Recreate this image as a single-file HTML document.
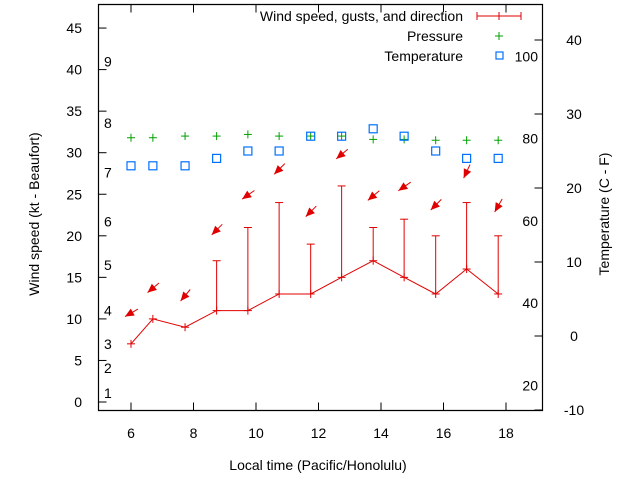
<!DOCTYPE html>
<html><head><meta charset="utf-8"><style>
body{margin:0;background:#fff;width:640px;height:480px;overflow:hidden}
svg text{font-family:"Liberation Sans",sans-serif;font-size:14px;fill:#000}
</style></head><body>
<svg id="c" width="640" height="480"></svg>
<script>
const hours=[6,6.7,7.73,8.74,9.74,10.74,11.75,12.74,13.75,14.74,15.75,16.74,17.75];
const wind=[7,10,9,11,11,13,13,15,17,15,13,16,13];
const gusts=[null,null,null,17,21,24,19,26,21,22,20,24,20];
const arrowKt=[10.7,13.7,12.8,20.7,24.9,28,22.9,29.8,24.8,25.9,23.7,27.7,23.6];
const windDir=[60,50,40,45,55,45,45,50,50,55,45,25,30];
const pressure=[31.8,31.8,32.0,32.0,32.2,32.0,32.0,32.0,31.6,31.6,31.5,31.5,31.5];
const tempC=[23,23,23,24,25,25,27,27,28,27,25,24,24];
const xTicks=[6,8,10,12,14,16,18];
const yTicks=[0,5,10,15,20,25,30,35,40,45];
const y2Ticks=[-10,0,10,20,30,40];
const fTicks=[20,40,60,80,100];
const beaufortLabels=[1,2,3,4,5,6,7,8,9];
const beaufortKt=[1.1,4.1,7,11,16.5,21.7,27.6,33.6,41];

const NS="http://www.w3.org/2000/svg",svg=document.getElementById('c');
function el(t,a,p){const e=document.createElementNS(NS,t);for(const k in a)e.setAttribute(k,a[k]);(p||svg).appendChild(e);return e;}
const L=98.5,R=542.5,T=4.5,B=410.5;
const X=h=>131+(h-6)*31.25;
const Y=v=>402-v*8.31;
const Y2=c=>336-c*7.4;
const F2Y=f=>Y2((f-32)*5/9);

let e=el('path',{d:`M${L},${T}H${R}V${B}H${L}Z`,fill:'none',stroke:'#000','stroke-width':1.2});

xTicks.forEach(h=>{const x=X(h);
 el('line',{x1:x,y1:B,x2:x,y2:B-8,stroke:'#000'});el('line',{x1:x,y1:T,x2:x,y2:T+8,stroke:'#000'});
 const t=el('text',{x:x,y:438,'text-anchor':'middle'});t.textContent=h;
 });
yTicks.forEach(v=>{const y=Y(v);el('line',{x1:L,y1:y,x2:L+8,y2:y,stroke:'#000'});
 const t=el('text',{x:82,y:y+5,'text-anchor':'end'});t.textContent=v;
 });
y2Ticks.forEach(v=>{const y=Y2(v);el('line',{x1:R,y1:y,x2:R-8,y2:y,stroke:'#000'});
 const t=el('text',{x:574,y:y+5,'text-anchor':'middle'});t.textContent=v;
 });
fTicks.forEach(v=>{const t=el('text',{x:538,y:F2Y(v)+5,'text-anchor':'end'});t.textContent=v;
 });
beaufortLabels.forEach((b,i)=>{const t=el('text',{x:104,y:Y(beaufortKt[i])+5});t.textContent=b;
 });

let t=el('text',{x:318,y:470,'text-anchor':'middle'});t.textContent='Local time (Pacific/Honolulu)';

t=el('text',{x:0,y:0,'text-anchor':'middle',transform:'translate(39,214) rotate(-90)'});t.textContent='Wind speed (kt - Beaufort)';

t=el('text',{x:0,y:0,'text-anchor':'middle',transform:'translate(609,214) rotate(-90)'});t.textContent='Temperature (C - F)';


const red='#e00000',green='#00a000',blue='#0070ff';
function plus(x,y,c,s,p){el('line',{x1:x-s,y1:y,x2:x+s,y2:y,stroke:c},p);el('line',{x1:x,y1:y-s,x2:x,y2:y+s,stroke:c},p);}
hours.forEach((h,i)=>{if(gusts[i]==null)return;const x=X(h);
 const g=el('g',{});
 el('line',{x1:x,y1:Y(wind[i]),x2:x,y2:Y(gusts[i]),stroke:red},g);
 el('line',{x1:x-4,y1:Y(gusts[i]),x2:x+4,y2:Y(gusts[i]),stroke:red},g);});
const wl=el('polyline',{points:hours.map((h,i)=>X(h)+','+Y(wind[i])).join(' '),fill:'none',stroke:red});

hours.forEach((h,i)=>plus(X(h),Y(wind[i]),red,4));
hours.forEach((h,i)=>{const a=windDir[i]*Math.PI/180,dx=-Math.sin(a),dy=Math.cos(a);
 const cx=X(h),cy=Y(arrowKt[i]),hx=cx+dx*7,hy=cy+dy*7,tx=cx-dx*8,ty=cy-dy*8;
 const g=el('g',{});
 el('line',{x1:tx,y1:ty,x2:hx,y2:hy,stroke:red},g);
 const px=-dy,py=dx,bx=hx-dx*9,by=hy-dy*9;
 el('polygon',{points:`${hx},${hy} ${bx+px*4},${by+py*4} ${bx-px*4},${by-py*4}`,fill:red},g);});
hours.forEach((h,i)=>{const g=el('g',{});plus(X(h),Y(pressure[i]),green,4,g);});
hours.forEach((h,i)=>{const r=el('rect',{x:X(h)-4,y:Y2(tempC[i])-4,width:8,height:8,fill:'none',stroke:blue,'stroke-width':1.2});
 });
const lg=el('g',{});
[['Wind speed, gusts, and direction',21],['Pressure',41],['Temperature',61]].forEach(([s,y])=>{const tt=el('text',{x:463,y:y,'text-anchor':'end'},lg);tt.textContent=s;});
el('line',{x1:477,y1:16,x2:521,y2:16,stroke:red},lg);el('line',{x1:477,y1:12,x2:477,y2:20,stroke:red},lg);
el('line',{x1:521,y1:12,x2:521,y2:20,stroke:red},lg);el('line',{x1:499,y1:12,x2:499,y2:20,stroke:red},lg);
plus(499,36,green,4,lg);
el('rect',{x:496,y:52,width:7,height:7,fill:'none',stroke:blue,'stroke-width':1.2},lg);
</script></body></html>
